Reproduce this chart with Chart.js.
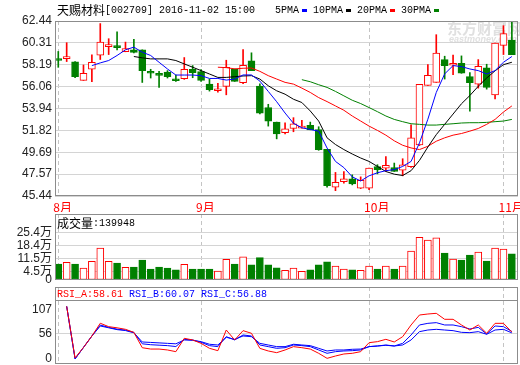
<!DOCTYPE html>
<html>
<head>
<meta charset="utf-8">
<script src="https://cdn.jsdelivr.net/npm/chart.js@4.4.1/dist/chart.umd.min.js"></script>
<style>
  body { margin: 0; background: #fff; }
  #wrap { position: relative; width: 520px; height: 365px; }
  #wrap canvas { position: absolute; left: 0; top: 0; }
</style>
</head>
<body>
<div id="wrap">
  <canvas id="priceChart" width="520" height="365"></canvas>
  <canvas id="volChart" width="520" height="365"></canvas>
  <canvas id="rsiChart" width="520" height="365"></canvas>
</div>
<script>
// month labels and the bar index where each month starts
const months = ['8月', '9月', '10月', '11月'];
const monthStart = [0, 17, 37, 53];

const priceTicks = [45.44, 47.57, 49.69, 51.82, 53.94, 56.06, 58.19, 60.31, 62.44];
const volTicks = [0, 4.5, 11.5, 18.4, 25.4];   // 万股
const rsiTicks = [0, 56, 107];

const open = [58.69, 58.79, 58.47, 56.67, 57.75, 59.12, 59.95, 59.90, 59.45, 59.64,
    59.64, 57.52, 57.26, 57.49, 56.80, 56.83, 57.75, 57.52, 56.31, 55.66,
    56.09, 57.78, 56.44, 58.56, 56.12, 54.03, 52.62, 51.58, 52.00, 52.03,
    52.30, 51.90, 49.98, 46.29, 46.84, 47.10, 46.19, 46.19, 48.31, 48.15,
    48.21, 47.96, 48.28, 50.40, 56.18, 56.48, 58.69, 58.14, 58.34, 57.03,
    56.31, 57.88, 55.27, 60.07, 60.59];
const high = [59.48, 60.33, 58.50, 58.17, 59.15, 62.19, 60.72, 61.40, 60.39, 60.65,
    59.64, 57.75, 57.55, 57.62, 57.19, 58.89, 58.11, 57.72, 56.80, 56.38,
    58.63, 57.78, 59.67, 59.35, 56.34, 54.35, 52.62, 52.56, 53.05, 52.79,
    52.62, 52.17, 49.98, 47.73, 47.82, 47.50, 47.30, 48.15, 48.48, 49.26,
    48.64, 49.06, 52.36, 56.28, 58.20, 61.11, 59.02, 59.12, 59.05, 57.42,
    58.69, 58.24, 60.29, 61.99, 62.44];
const low = [57.94, 58.50, 56.93, 56.67, 56.54, 58.70, 59.18, 59.64, 59.45, 59.35,
    56.47, 56.90, 55.99, 56.90, 56.57, 56.77, 56.93, 56.57, 55.63, 55.53,
    55.27, 56.57, 56.34, 57.62, 53.41, 52.23, 50.99, 51.48, 51.68, 52.03,
    51.87, 49.88, 46.29, 45.96, 46.68, 46.52, 46.16, 46.06, 47.59, 47.82,
    47.82, 47.40, 48.21, 50.34, 56.18, 56.48, 56.80, 57.23, 57.36, 53.68,
    55.92, 55.82, 54.87, 59.18, 59.18];
const close = [58.60, 58.96, 57.03, 57.36, 58.43, 60.39, 60.00, 59.85, 59.77, 59.38,
    57.62, 57.36, 57.16, 57.03, 56.64, 57.75, 57.42, 56.67, 55.76, 55.72,
    57.95, 56.57, 58.14, 57.62, 53.48, 52.72, 51.48, 51.97, 52.46, 52.13,
    51.87, 49.95, 46.45, 46.78, 47.10, 46.62, 46.97, 48.15, 47.99, 48.41,
    47.82, 48.48, 51.09, 56.28, 57.16, 59.32, 58.11, 58.34, 57.36, 56.44,
    58.04, 55.99, 60.29, 61.21, 59.18];

const volume = [8.6, 9.5, 8.6, 6.4, 10.0, 17.2, 10.0, 9.1, 6.8, 7.0,
    10.7, 5.9, 7.0, 6.4, 5.4, 8.4, 5.9, 5.9, 5.9, 4.8,
    11.1, 8.6, 12.4, 8.1, 12.0, 8.1, 6.6, 5.2, 6.4, 4.6,
    5.4, 8.1, 9.7, 7.5, 5.9, 5.4, 5.2, 7.5, 5.9, 7.5,
    5.9, 7.5, 15.6, 22.9, 21.5, 22.6, 14.5, 11.3, 10.7, 13.4,
    15.0, 10.2, 17.2, 16.6, 14.0];

const ma5 = [null, null, null, null, 58.11, 58.37, 58.60, 59.09, 59.64, 59.90,
    59.41, 59.09, 58.43, 57.78, 57.19, 57.19, 57.19, 57.13, 56.86, 56.86,
    56.70, 56.80, 57.20, 57.20, 56.60, 55.60, 54.60, 53.50, 52.50, 52.07,
    51.90, 51.74, 50.10, 48.80, 48.20, 47.30, 46.90, 47.40, 47.70, 47.90,
    48.00, 48.31, 48.80, 50.60, 52.90, 55.50, 57.30, 58.11, 58.01, 57.78,
    57.62, 57.29, 57.62, 58.43, 58.99];
const ma10 = [null, null, null, null, null, null, null, null, null, 58.99,
    58.86, 58.76, 58.76, 58.76, 58.60, 58.27, 57.95, 57.62, 57.29, 56.96,
    56.96, 57.03, 57.10, 57.13, 56.80, 56.15, 55.66, 55.33, 54.84, 54.52,
    53.70, 52.72, 51.09, 50.44, 49.95, 49.52, 49.13, 48.80, 48.31, 47.82,
    47.56, 47.43, 47.90, 48.90, 50.20, 51.40, 52.40, 53.40, 54.40, 55.20,
    56.10, 56.90, 57.60, 58.20, 58.43];
const ma20 = [null, null, null, null, null, null, null, null, null, null,
    null, null, null, null, null, null, null, null, null, 57.95,
    57.91, 57.79, 57.85, 57.87, 57.55, 57.13, 56.80, 56.48, 56.31, 55.92,
    55.50, 55.00, 54.61, 54.19, 53.77, 53.21, 52.72, 52.23, 51.81, 51.35,
    50.80, 50.37, 50.11, 49.95, 50.27, 50.76, 51.09, 51.35, 51.51, 51.74,
    52.00, 52.40, 52.88, 53.60, 54.19];
const ma30 = [null, null, null, null, null, null, null, null, null, null,
    null, null, null, null, null, null, null, null, null, null,
    null, null, null, null, null, null, null, null, null, 56.74,
    56.54, 56.25, 55.99, 55.60, 55.17, 54.74, 54.42, 54.03, 53.63, 53.21,
    52.88, 52.66, 52.46, 52.40, 52.33, 52.33, 52.40, 52.46, 52.53, 52.56,
    52.56, 52.59, 52.66, 52.72, 52.88];

const rsiA = [null, 115, 2, 25, 50, 78, 70.5, 68, 64.7, 58,
    24.4, 21.5, 21.5, 19.5, 15.8, 45, 41.4, 34, 23.1, 18,
    63.2, 41.4, 61.8, 56, 23, 17.3, 13.6, 19.5, 26.8, 24.5,
    21.5, 12.2, 1.2, 6.3, 10.7, 12.2, 15.8, 35.5, 37.7, 42.8,
    37, 48.6, 74.2, 96, 98.2, 99.7, 86.6, 86.6, 74.2, 63.2,
    74.2, 56, 77.8, 77.8, 58.61];
const rsiB = [null, 115, 0, 25, 50, 74, 69, 65, 63, 58,
    33, 31, 30, 29, 27, 42.8, 41.4, 36.3, 29, 26.8,
    48.6, 41.4, 52.3, 50.1, 30.4, 26.8, 23.1, 24.5, 30.4, 29,
    26.8, 19.5, 12.2, 15.8, 17.3, 18, 19.5, 26.8, 28.2, 30.4,
    28.2, 34, 52.3, 74.2, 77.8, 79.3, 74.2, 74.2, 70.5, 65.4,
    69, 54.5, 72, 70.5, 60.07];
const rsiC = [null, 115, 0, 25, 50, 72, 68, 64, 62, 57,
    37, 36, 35, 34, 33, 41.4, 40.6, 37.7, 32, 30.4,
    47.2, 42.8, 50.1, 48.6, 34, 30.4, 26.8, 26.8, 32, 30.4,
    29, 23.1, 17.3, 19.5, 19.5, 21, 21.5, 26.8, 28.2, 29.7,
    28.2, 30.4, 41.4, 59.6, 63.2, 64.7, 63.2, 61.8, 58.1, 57.4,
    59.6, 53.8, 63.2, 64.7, 56.88];

const RED = '#ff0000';
const GREEN = '#008000';
const BLUE = '#0000ff';
const GRID = '#d4d4d4';
const FRAME = '#8c8c8c';

const isUp = i => close[i] >= open[i];
const pts = arr => arr.map((v, i) => ({ x: i, y: v }));

// CJK runs in a 12px CJK face, the rest in a 6px-wide mono face (like SimSun)
function drawMixed(ctx, text, x, y, color) {
    const runs = text.match(/[\u2e80-\u9fff]+|[^\u2e80-\u9fff]+/g);
    ctx.fillStyle = color;
    ctx.textBaseline = 'middle';
    ctx.textAlign = 'left';
    for (const r of runs) {
        const cjk = /[\u2e80-\u9fff]/.test(r);
        ctx.font = cjk ? '12px "Noto Sans CJK SC"' : '10px "Liberation Mono"';
        ctx.fillText(r, x, y);
        x += (cjk ? 12 : 6) * r.length;
    }
    return x;
}

function drawFrame(chart) {
    const { ctx, chartArea: a } = chart;
    ctx.save();
    ctx.strokeStyle = FRAME;
    ctx.lineWidth = 1;
    ctx.strokeRect(Math.round(a.left) + 0.5, Math.round(a.top) + 0.5,
        Math.round(a.width) - 1, Math.round(a.height) - 1);
    ctx.restore();
}

function xScale(showLabels) {
    return {
        type: 'linear',
        min: -0.39,
        max: 54.73,
        offset: false,
        afterBuildTicks: s => { s.ticks = monthStart.map(v => ({ value: v })); },
        afterFit: s => {
            s.height = showLabels ? 16 : 0;
            s.paddingLeft = 0;
            s.paddingRight = 0;
        },
        grid: { color: '#c4c4c4', drawTicks: false, offset: false },
        border: { display: false, dash: [4, 3] },
        ticks: {
            display: showLabels,
            autoSkip: false,
            maxRotation: 0,
            align: 'start',
            labelOffset: -5,
            padding: 4,
            color: RED,
            font: { family: '"Noto Sans CJK SC"', size: 12 },
            callback: v => months[monthStart.indexOf(v)]
        }
    };
}

function yScale(min, max, ticks, fmt, gridColor) {
    return {
        min: min,
        max: max,
        afterBuildTicks: s => { s.ticks = ticks.map(v => ({ value: v })); },
        afterFit: s => {
            s.width = 55;
            s.paddingTop = 0;
            s.paddingBottom = 0;
        },
        grid: { color: gridColor || GRID, drawTicks: false },
        border: { display: false },
        ticks: {
            autoSkip: false,
            padding: 3,
            color: '#222',
            font: { family: '"Liberation Sans", "Noto Sans CJK SC"', size: 12 },
            callback: fmt
        }
    };
}

const common = {
    responsive: false,
    animation: false,
    devicePixelRatio: 1,
    events: []
};

// ---- price panel ----
new Chart(document.getElementById('priceChart'), {
    type: 'bar',
    data: {
        datasets: [
            { type: 'line', label: '5PMA', data: pts(ma5), borderColor: BLUE, borderWidth: 1, pointRadius: 0, order: 0 },
            { type: 'line', label: '10PMA', data: pts(ma10), borderColor: '#000', borderWidth: 1, pointRadius: 0, order: 0 },
            { type: 'line', label: '20PMA', data: pts(ma20), borderColor: RED, borderWidth: 1, pointRadius: 0, order: 0 },
            { type: 'line', label: '30PMA', data: pts(ma30), borderColor: GREEN, borderWidth: 1, pointRadius: 0, order: 0 },
            {
                label: 'body',
                data: open.map((o, i) => ({ x: i, y: [Math.min(o, close[i]), Math.max(o, close[i])] })),
                backgroundColor: c => isUp(c.dataIndex) ? '#fff' : GREEN,
                borderColor: c => isUp(c.dataIndex) ? RED : GREEN,
                borderWidth: 1,
                borderSkipped: false,
                minBarLength: 2,
                barThickness: 7,
                grouped: false,
                order: 1
            },
            {
                label: 'wick',
                data: open.map((o, i) => ({ x: i, y: [low[i], high[i]] })),
                backgroundColor: c => isUp(c.dataIndex) ? RED : GREEN,
                borderWidth: 0,
                barThickness: 1,
                grouped: false,
                order: 2
            }
        ]
    },
    options: {
        ...common,
        layout: { padding: { top: 21, bottom: 153, left: 0, right: 2 } },
        plugins: { legend: { display: false }, tooltip: { enabled: false } },
        scales: {
            x: xScale(true),
            y: yScale(45.44, 62.44, priceTicks, v => v.toFixed(2))
        }
    },
    plugins: [{
        id: 'priceText',
        beforeDatasetsDraw(chart) {
            const ctx = chart.ctx;
            ctx.save();
            ctx.fillStyle = '#e0e0e0';
            ctx.textBaseline = 'middle';
            ctx.font = 'bold 15px "Noto Sans CJK SC"';
            ctx.fillText('东方财富网', 447, 28);
            ctx.font = 'italic bold 9px "Liberation Sans"';
            ctx.fillText('eastmoney.com', 449, 40);
            ctx.restore();
        },
        afterDraw(chart) {
            const ctx = chart.ctx;
            drawFrame(chart);
            ctx.save();
            drawMixed(ctx, '天赐材料[002709] 2016-11-02 15:00', 57, 10, '#000');
            let x = 275;
            [['5PMA', BLUE], ['10PMA', '#000'], ['20PMA', RED], ['30PMA', GREEN]].forEach(([t, c]) => {
                x = drawMixed(ctx, t, x, 10, '#000') + 3;
                ctx.fillStyle = c;
                ctx.fillRect(x, 9, 5, 3);
                x += 11;
            });
            ctx.restore();
        }
    }]
});

// ---- volume panel ----
new Chart(document.getElementById('volChart'), {
    type: 'bar',
    data: {
        datasets: [{
            label: '成交量',
            data: pts(volume),
            backgroundColor: c => isUp(c.dataIndex) ? '#fff' : GREEN,
            borderColor: c => isUp(c.dataIndex) ? RED : GREEN,
            borderWidth: 1,
            borderSkipped: false,
            barThickness: 7,
            grouped: false
        }]
    },
    options: {
        ...common,
        layout: { padding: { top: 214, bottom: 85, left: 0, right: 2 } },
        plugins: { legend: { display: false }, tooltip: { enabled: false } },
        scales: {
            x: xScale(false),
            y: yScale(0, 35.45, volTicks, v => v === 0 ? '0' : v + '万',
                c => c.tick && c.tick.value === 0 ? 'transparent' : GRID)
        }
    },
    plugins: [{
        id: 'volText',
        afterDraw(chart) {
            drawFrame(chart);
            chart.ctx.save();
            drawMixed(chart.ctx, '成交量:139948', 57, 223, '#000');
            chart.ctx.restore();
        }
    }]
});

// ---- RSI panel ----
new Chart(document.getElementById('rsiChart'), {
    type: 'line',
    data: {
        datasets: [
            { label: 'RSI_A', data: pts(rsiA), borderColor: RED, borderWidth: 1, pointRadius: 0 },
            { label: 'RSI_B', data: pts(rsiB), borderColor: BLUE, borderWidth: 1, pointRadius: 0 },
            { label: 'RSI_C', data: pts(rsiC), borderColor: BLUE, borderWidth: 1, pointRadius: 0 }
        ]
    },
    options: {
        ...common,
        layout: { padding: { top: 287, bottom: 1, left: 0, right: 2 } },
        plugins: { legend: { display: false }, tooltip: { enabled: false } },
        scales: {
            x: xScale(false),
            y: yScale(-11.2, 157.3, rsiTicks, v => String(v),
                c => c.tick && c.tick.value === 56 ? GRID : 'transparent')
        }
    },
    plugins: [{
        id: 'rsiText',
        afterDraw(chart) {
            const { ctx, chartArea: a } = chart;
            drawFrame(chart);
            ctx.save();
            ctx.strokeStyle = FRAME;
            ctx.beginPath();
            ctx.moveTo(a.left, 300.5);
            ctx.lineTo(a.right, 300.5);
            ctx.stroke();
            drawMixed(ctx, 'RSI_A:' + rsiA[rsiA.length - 1].toFixed(2), 57, 294, RED);
            drawMixed(ctx, 'RSI_B:' + rsiB[rsiB.length - 1].toFixed(2), 129, 294, BLUE);
            drawMixed(ctx, 'RSI_C:' + rsiC[rsiC.length - 1].toFixed(2), 201, 294, BLUE);
            ctx.restore();
        }
    }]
});
</script>
</body>
</html>
